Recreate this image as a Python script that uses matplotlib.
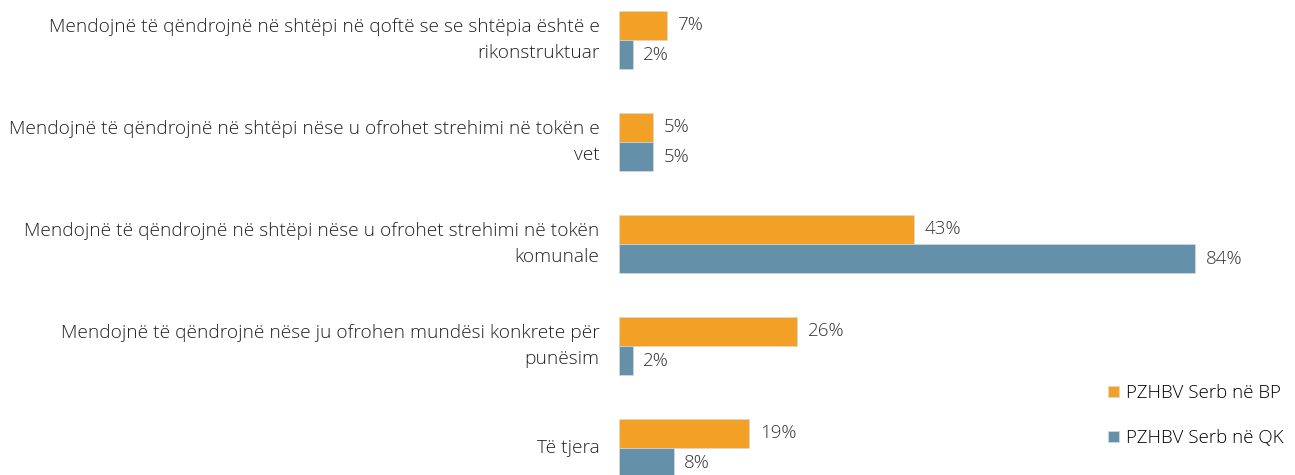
import matplotlib
matplotlib.use('Agg')
import matplotlib.pyplot as plt
import numpy as np

categories = ['Mendojnë të qëndrojnë në shtëpi në qoftë se se shtëpia është e\nrikonstruktuar',
              'Mendojnë të qëndrojnë në shtëpi nëse u ofrohet strehimi në tokën e\nvet',
              'Mendojnë të qëndrojnë në shtëpi nëse u ofrohet strehimi në tokën\nkomunale',
              'Mendojnë të qëndrojnë nëse ju ofrohen mundësi konkrete për\npunësim',
              'Të tjera']
bp_vals = [7, 5, 43, 26, 19]
qk_vals = [2, 5, 84, 2, 8]
series_names = ['PZHBV Serb në BP', 'PZHBV Serb në QK']
colors = ['#F2A026', '#6490AA']

plt.rcParams['font.family'] = ['Open Sans', 'DejaVu Sans']
plt.rcParams['font.weight'] = 'light'

fig = plt.figure(figsize=(12.95, 4.75), dpi=100)
ax = fig.add_axes([619/1295, 0, 1 - 619/1295, 1])

y = np.arange(len(categories))
h = 0.285
b1 = ax.barh(y - h/2, bp_vals, height=h, color=colors[0], edgecolor='#d8d8d8', linewidth=0.5, label=series_names[0])
b2 = ax.barh(y + h/2, qk_vals, height=h, color=colors[1], edgecolor='#d8d8d8', linewidth=0.5, label=series_names[1])

for bars in (b1, b2):
    for r in bars:
        ax.text(r.get_width() + 1.5, r.get_y() + r.get_height()/2, '%d%%' % r.get_width(),
                va='center', ha='left', fontsize=13.5, color='#333333')

ax.set_xlim(0, 98.5)
ax.set_ylim(4.265, -0.392)
ax.set_yticks(y)
ax.set_yticklabels(categories, fontsize=13.8, color='#222222', linespacing=1.55, va='center')
ax.tick_params(axis='y', length=0, pad=14)
ax.set_xticks([])
for s in ax.spines.values():
    s.set_visible(False)

fig.legend(loc='lower right', bbox_to_anchor=(1.0, 0.035), frameon=False, fontsize=13.5,
           handlelength=0.55, handleheight=0.55, handletextpad=0.4, labelspacing=1.45,
           borderaxespad=0.2)

fig.savefig('out.png', dpi=100)
